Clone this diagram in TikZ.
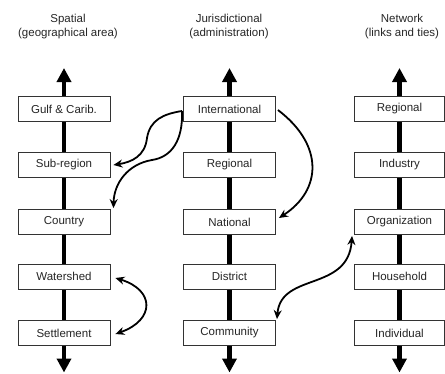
\documentclass[tikz,border=0pt]{standalone}
\usepackage{fontspec}
\setmainfont{Liberation Sans}
\usetikzlibrary{arrows.meta,calc}
\begin{document}
\begin{tikzpicture}[x=1pt,y=-1pt,
  box/.style={draw=black!80,line width=0.9pt,fill=white,minimum width=92pt,minimum height=25pt,inner sep=0pt,text=black!85,font=\fontsize{11.5}{13}\selectfont},
  nbox/.style={box,minimum width=90pt},
  axis/.style={line width=4.5pt,{Triangle[length=14pt,width=14pt]}-{Triangle[length=14pt,width=14pt]}},
  link/.style={line width=1.8pt,-{Stealth[length=9pt,width=8pt]}},
  dlink/.style={line width=1.8pt,{Stealth[length=9pt,width=8pt]}-{Stealth[length=9pt,width=8pt]}},
  title/.style={align=center,text=black!85,font=\fontsize{11.5}{14}\selectfont}]
\useasboundingbox (0,0) rectangle (445,373);

% titles
\node[title] (t1) at (68,26.5) {Spatial\\(geographical area)};
\node[title] (t2) at (229,26.5) {Jurisdictional\\(administration)};
\node[title] (t3) at (402,26.5) {Network\\(links and ties)};

% axes
\coordinate (a1t) at (64,68);   \coordinate (a1b) at (64,372.5);
\coordinate (a2t) at (229.5,68);\coordinate (a2b) at (229.5,372.5);
\coordinate (a3t) at (399.5,68);\coordinate (a3b) at (399.5,372.5);
\draw[axis] (a1t) -- (a1b);
\draw[axis] (a2t) -- (a2b);
\draw[axis] (a3t) -- (a3b);

% column 1
\node[box] (s1) at (64,109) {Gulf \& Carib.};
\node[box] (s2) at (64,165) {Sub-region};
\node[box] (s3) at (64,222) {Country};
\node[box] (s4) at (64,276.5) {Watershed};
\node[box] (s5) at (64,333) {Settlement};
% column 2
\node[box] (j1) at (229.5,109) {International};
\node[box] (j2) at (229.5,165) {Regional};
\node[box] (j3) at (229.5,222) {National};
\node[box] (j4) at (229.5,276.5) {District};
\node[box] (j5) at (229.5,333) {Community};
% column 3
\node[nbox] (n1) at (399.5,109) {Regional};
\node[nbox] (n2) at (399.5,165) {Industry};
\node[nbox] (n3) at (399.5,222) {Organization};
\node[nbox] (n4) at (399.5,276.5) {Household};
\node[nbox] (n5) at (399.5,333) {Individual};

% links
\draw[link] ($(j1.west)+(-1,2)$) .. controls (163,114) and (150,120) .. (147,138)
   .. controls (145,156) and (132,162) .. ($(s2.east)+(3,0)$);
\draw[link] ($(j1.west)+(-1,2)$) .. controls (183,140) and (172,157) .. (152,160)
   .. controls (128,164) and (114,183) .. ($(s3.north east)+(3,-1)$);
\draw[link] ($(j1.east)+(2,1)$) .. controls (324,145) and (322,190) .. ($(j3.east)+(3,-4)$);
\draw[dlink] ($(s4.east)+(5,1.5)$) .. controls (155,290) and (155,320) .. ($(s5.east)+(5,1)$);
\draw[dlink] ($(j5.north east)+(1,-1)$) .. controls (281,272) and (348,292) .. ($(n3.south west)+(-2,1)$);
\end{tikzpicture}
\end{document}
